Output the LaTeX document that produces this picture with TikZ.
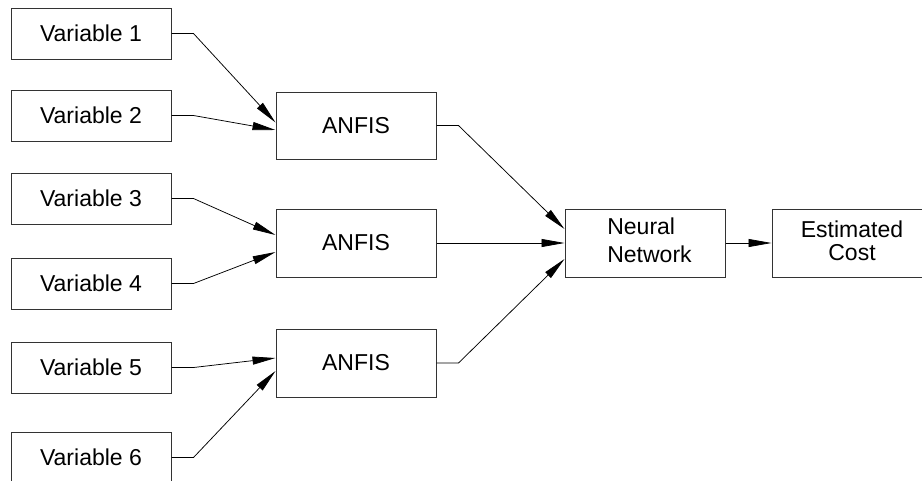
\documentclass[tikz,border=0pt]{standalone}
\usepackage{fontspec}
\setmainfont{Liberation Sans}
\usetikzlibrary{arrows.meta}
\begin{document}
\begin{tikzpicture}[x=1pt,y=-1pt,
  box/.style={draw=black!80, line width=1pt, rectangle, inner sep=0pt,
    minimum width=160pt, font=\fontsize{23}{28.5}\selectfont},
  varbox/.style={box, minimum height=51pt},
  procbox/.style={box, minimum height=68pt},
  conn/.style={draw=black, line width=0.75pt,
    -{Triangle[length=23pt,width=8pt]}}]
\useasboundingbox (0,0) rectangle (922,480);
\clip (0,0) rectangle (922,480);

% input variables
\node[varbox] (v1) at (91,33.5)  {Variable 1};
\node[varbox] (v2) at (91,115.5) {Variable 2};
\node[varbox] (v3) at (91,198.5) {Variable 3};
\node[varbox] (v4) at (91,283.5) {Variable 4};
\node[varbox] (v5) at (91,367.5) {Variable 5};
\node[varbox] (v6) at (91,457.5) {Variable 6};

% ANFIS stages
\node[procbox, minimum height=67pt] (a1) at (356,125.5) {ANFIS};
\node[procbox] (a2) at (356,243) {ANFIS};
\node[procbox] (a3) at (356,363) {ANFIS};

% network and output
\node[procbox] (nn) at (645,243)
  {\begin{tabular}{@{\hspace{9pt}}l@{}}Neural\\Network\end{tabular}};
\node[procbox, align=center, text depth=4pt,
  font=\fontsize{23}{23.3}\selectfont] (ec) at (852,243) {Estimated\\Cost};

% variables into ANFIS
\draw[conn] (v1.east) -- ++(22,0) -- ([yshift=3pt]a1.west);
\draw[conn] (v2.east) -- ++(22,0) -- ([yshift=-4.5pt]a1.west);
\draw[conn] (v3.east) -- ++(22,0) -- ([yshift=8pt]a2.west);
\draw[conn] (v4.east) -- ++(22,0) -- ([yshift=-9pt]a2.west);
\draw[conn] (v5.east) -- ++(22,0) -- ([yshift=5pt]a3.west);
\draw[conn] (v6.east) -- ++(22,0) -- ([yshift=-8pt]a3.west);

% ANFIS into the network
\draw[conn] (a1.east) -- ++(22,0) -- ([yshift=14pt]nn.west);
\draw[conn] (a2.east) -- (nn.west);
\draw[conn] (a3.east) -- ++(22,0) -- ([yshift=-16pt]nn.west);

% network to estimate
\draw[conn] (nn.east) -- (ec.west);
\end{tikzpicture}
\end{document}
